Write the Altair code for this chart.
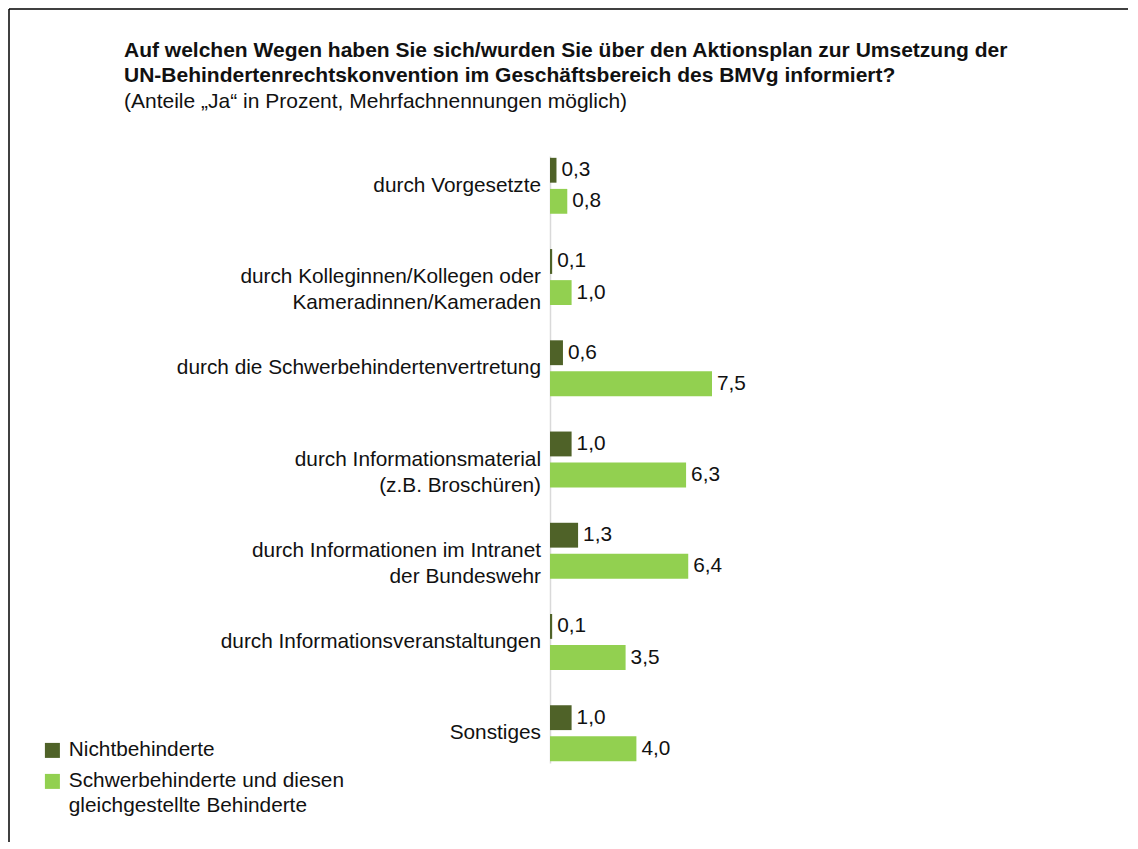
import altair as alt
import pandas as pd

categories = [
    "durch Vorgesetzte",
    "durch Kolleginnen/Kollegen oder\nKameradinnen/Kameraden",
    "durch die Schwerbehindertenvertretung",
    "durch Informationsmaterial\n(z.B. Broschüren)",
    "durch Informationen im Intranet\nder Bundeswehr",
    "durch Informationsveranstaltungen",
    "Sonstiges",
]
series = ["Nichtbehinderte", "Schwerbehinderte und diesen gleichgestellte Behinderte"]
nichtbehinderte = [0.3, 0.1, 0.6, 1.0, 1.3, 0.1, 1.0]
schwerbehinderte = [0.8, 1.0, 7.5, 6.3, 6.4, 3.5, 4.0]
colors = ["#4F6228", "#92D050"]

FONT = "Liberation Sans"
FS = 20.8

rows = []
for c, a, b in zip(categories, nichtbehinderte, schwerbehinderte):
    for s, v in zip(series, (a, b)):
        rows.append({"category": c, "series": s, "value": v,
                     "label": f"{v:.1f}".replace(".", ",")})
df = pd.DataFrame(rows)
cat_df = pd.DataFrame({"category": categories})
one = pd.DataFrame({"k": [0]})

y_axis = alt.Axis(labels=False, ticks=False, title=None,
                  domainColor="#D9D9D9", domainWidth=1.5)
y_scale = alt.Scale(paddingInner=0.387, paddingOuter=0.02)
y_enc = alt.Y("category:N", sort=categories, scale=y_scale, axis=y_axis)
x_enc = alt.X("value:Q", scale=alt.Scale(domain=[0, 10]), axis=None)
yoff = alt.YOffset("series:N", sort=series, scale=alt.Scale(paddingInner=0.2))

bars = alt.Chart(df).mark_bar().encode(
    x=x_enc, y=y_enc, yOffset=yoff,
    color=alt.Color("series:N", sort=series,
                    scale=alt.Scale(domain=series, range=colors),
                    legend=alt.Legend(orient="none", legendX=-508, legendY=584,
                                      title=None, symbolType="square", symbolSize=225,
                                      symbolStrokeWidth=0, labelFont=FONT,
                                      labelFontSize=FS, labelColor="#111111",
                                      labelOffset=6, labelLimit=0, padding=0,
                                      rowPadding=9,
                                      labelExpr="split(replace(datum.label, 'diesen ', 'diesen|'), '|')")),
)

values = alt.Chart(df).mark_text(align="left", baseline="middle", dx=5,
                                 font=FONT, fontSize=FS, color="#111111").encode(
    x=x_enc, y=y_enc, yOffset=yoff, text="label:N")

cat_labels = alt.Chart(cat_df).mark_text(align="right", baseline="middle", dx=-9,
                                         lineBreak="\n", lineHeight=26,
                                         font=FONT, fontSize=FS, color="#111111").encode(
    x=alt.value(0), y=y_enc, text="category:N")

top_border = alt.Chart(one).mark_rule(color="black", strokeWidth=1.5).encode(
    x=alt.value(-541), x2=alt.value(578), y=alt.value(-147))
left_border = alt.Chart(one).mark_rule(color="black", strokeWidth=1.5).encode(
    x=alt.value(-541), y=alt.value(-147), y2=alt.value(686))

chart = alt.layer(top_border, left_border, bars, values, cat_labels).properties(
    width=216, height=607,
    padding=0,
    autosize="pad",
    background="white",
    title=alt.Title(
        text=["Auf welchen Wegen haben Sie sich/wurden Sie über den Aktionsplan zur Umsetzung der",
              "UN-Behindertenrechtskonvention im Geschäftsbereich des BMVg informiert?"],
        subtitle="(Anteile „Ja“ in Prozent, Mehrfachnennungen möglich)",
        anchor="start", frame="group", dx=-426, offset=-104,
        font=FONT, fontSize=21, fontWeight="bold", color="#111111", lineHeight=25,
        subtitleFont=FONT, subtitleFontSize=21, subtitleColor="#111111",
        subtitlePadding=5),
).configure(
    view=alt.ViewConfig(stroke="transparent", strokeWidth=0),
    style={"guide-label": {"lineHeight": 25}},
)

chart.save("out.html", embed_options={"renderer": "svg", "actions": False})
